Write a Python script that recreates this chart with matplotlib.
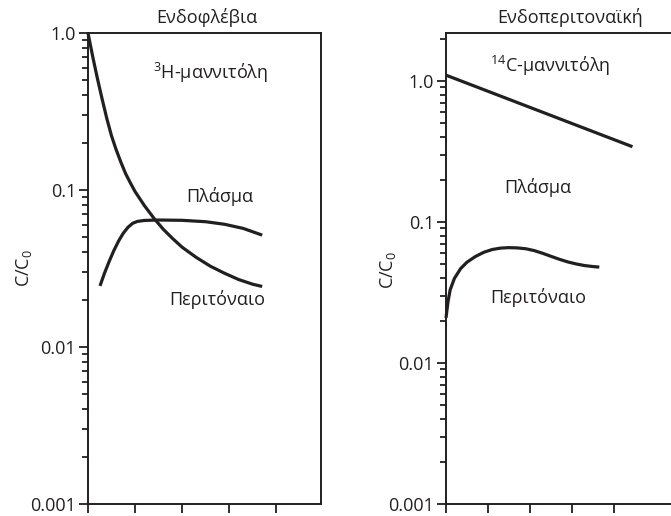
import matplotlib
matplotlib.use("Agg")
import matplotlib.pyplot as plt
from matplotlib.ticker import FixedLocator, FixedFormatter, LogLocator, NullFormatter

plt.rcParams['font.family'] = ['Open Sans', 'DejaVu Sans']
plt.rcParams['mathtext.fontset'] = 'custom'
plt.rcParams['mathtext.rm'] = 'Open Sans'
plt.rcParams['mathtext.it'] = 'Open Sans:italic'
plt.rcParams['mathtext.bf'] = 'Open Sans:bold'
plt.rcParams['mathtext.default'] = 'regular'

# ---- data ----
titles = ["Ενδοφλέβια", "Ενδοπεριτοναϊκή"]
compounds = ["$^{3}$H-μαννιτόλη", "$^{14}$C-μαννιτόλη"]
plasma_label = "Πλάσμα"
perit_label = "Περιτόναιο"
ylabel = "C/C$_0$"
ytick_vals = [0.001, 0.01, 0.1, 1.0]
ytick_labels = ["0.001", "0.01", "0.1", "1.0"]
xtick_vals = [0, 1, 2, 3, 4]

# Intravenous panel
iv_dec_x = [0.0, 0.1, 0.2, 0.3, 0.4, 0.5, 0.6, 0.7, 0.8, 0.9, 1.0, 1.2, 1.4, 1.6,
            1.8, 2.0, 2.3, 2.6, 2.9, 3.2, 3.5, 3.7]
iv_dec_y = [1.0, 0.708, 0.513, 0.380, 0.285, 0.221, 0.180, 0.150, 0.127, 0.111, 0.0977,
            0.0794, 0.0661, 0.0562, 0.0490, 0.0432, 0.0372, 0.0327, 0.0295, 0.0269,
            0.0251, 0.0243]
iv_rise_x = [0.255, 0.35, 0.45, 0.55, 0.65, 0.75, 0.85, 0.95, 1.05, 1.2, 1.5, 2.0,
             2.5, 2.9, 3.3, 3.7]
iv_rise_y = [0.0245, 0.0295, 0.0351, 0.0412, 0.0473, 0.0531, 0.0579, 0.0614, 0.0631,
             0.0640, 0.0644, 0.0641, 0.0628, 0.0605, 0.0569, 0.0516]

# Intraperitoneal panel
ip_line_x = [0.0, 4.44]
ip_line_y = [1.10, 0.342]
ip_rise_x = [0.0, 0.05, 0.1, 0.2, 0.35, 0.5, 0.7, 0.9, 1.1, 1.3, 1.5, 1.7, 1.9, 2.1,
             2.3, 2.5, 2.7, 2.9, 3.1, 3.3, 3.5, 3.65]
ip_rise_y = [0.0209, 0.0275, 0.0331, 0.0398, 0.0468, 0.0519, 0.0569, 0.0610, 0.0638,
             0.0653, 0.0658, 0.0655, 0.0646, 0.0627, 0.0600, 0.0571, 0.0544, 0.0521,
             0.0504, 0.0491, 0.0483, 0.0479]

W, H = 671, 516
fig = plt.figure(figsize=(W / 100, H / 100), dpi=100)

def px_axes(x0, x1, ytop, ybot):
    return fig.add_axes([x0 / W, (H - ybot) / H, (x1 - x0) / W, (ybot - ytop) / H])

ax1 = px_axes(88, 321, 33, 504)
ax2 = px_axes(446, 690, 33, 504)

FS = 13
LW = 2.3
c = '#231f20'

def style(ax, xmax, ytop):
    ax.set_yscale('log')
    ax.set_ylim(0.001, ytop)
    ax.set_xlim(0, xmax)
    ax.yaxis.set_major_locator(FixedLocator(ytick_vals))
    ax.yaxis.set_major_formatter(FixedFormatter(ytick_labels))
    ax.yaxis.set_minor_locator(LogLocator(base=10, subs=range(2, 10)))
    ax.yaxis.set_minor_formatter(NullFormatter())
    ax.xaxis.set_major_locator(FixedLocator(xtick_vals))
    ax.xaxis.set_major_formatter(NullFormatter())
    ax.tick_params(axis='both', which='major', direction='out', length=6.5, width=1.3,
                   labelsize=FS, pad=2, color=c, labelcolor=c)
    ax.tick_params(axis='y', which='minor', direction='out', length=4.3, width=1.3, color=c)
    for s in ax.spines.values():
        s.set_linewidth(1.4)
        s.set_color(c)

style(ax1, 4.95, 1.0)
style(ax2, 5.81, 2.19)

ax1.plot(iv_dec_x, iv_dec_y, color=c, lw=LW, solid_capstyle='butt', solid_joinstyle='round', clip_on=False)
ax1.plot(iv_rise_x, iv_rise_y, color=c, lw=LW, solid_capstyle='butt', solid_joinstyle='round')
ax2.plot(ip_line_x, ip_line_y, color=c, lw=LW, solid_capstyle='butt')
ax2.plot(ip_rise_x, ip_rise_y, color=c, lw=LW, solid_capstyle='butt', solid_joinstyle='round', clip_on=False)

ax1.text(0.528, 0.915, compounds[0], transform=ax1.transAxes, ha='center', va='center', fontsize=FS, color=c)
ax1.text(0.567, 0.652, plasma_label, transform=ax1.transAxes, ha='center', va='center', fontsize=FS, color=c)
ax1.text(0.554, 0.435, perit_label, transform=ax1.transAxes, ha='center', va='center', fontsize=FS, color=c)

ax2.text(0.426, 0.930, compounds[1], transform=ax2.transAxes, ha='center', va='center', fontsize=FS, color=c)
ax2.text(0.377, 0.671, plasma_label, transform=ax2.transAxes, ha='center', va='center', fontsize=FS, color=c)
ax2.text(0.377, 0.439, perit_label, transform=ax2.transAxes, ha='center', va='center', fontsize=FS, color=c)

fig.text(207 / W, 1 - 17 / H, titles[0], ha='center', va='center', fontsize=FS, color=c)
fig.text(570 / W, 1 - 17 / H, titles[1], ha='center', va='center', fontsize=FS, color=c)
fig.text(24 / W, 1 - 268 / H, ylabel, rotation=90, ha='center', va='center', fontsize=FS, color=c)
fig.text(388 / W, 1 - 270 / H, ylabel, rotation=90, ha='center', va='center', fontsize=FS, color=c)

fig.savefig('out.png', dpi=100)
